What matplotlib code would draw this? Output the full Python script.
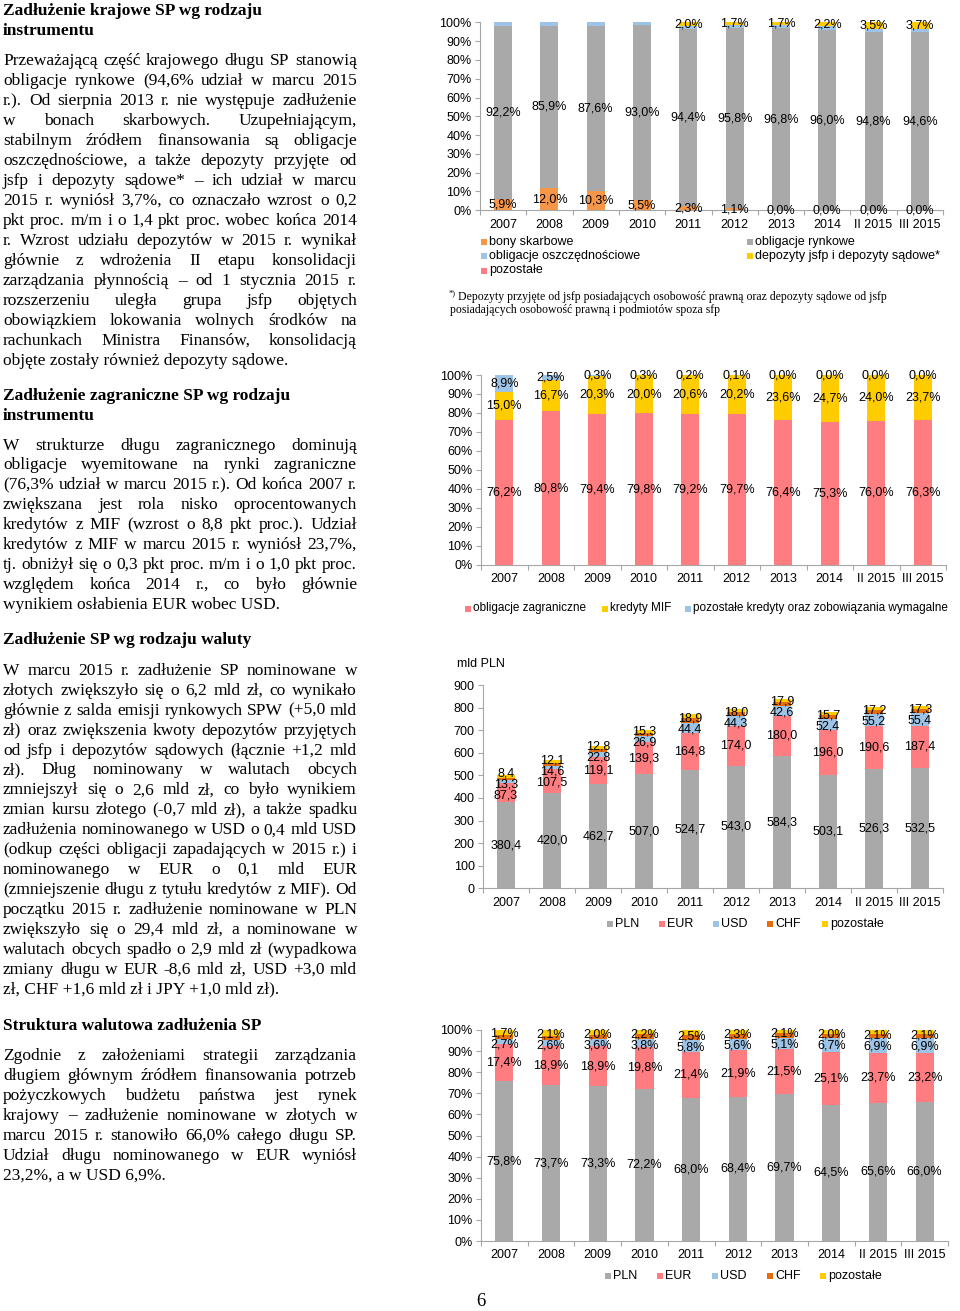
import matplotlib
matplotlib.use("Agg")
import matplotlib.pyplot as plt
import numpy as np
from matplotlib.patches import Rectangle
from matplotlib.font_manager import FontProperties

W, H = 960, 1311

years = ['2007', '2008', '2009', '2010', '2011', '2012', '2013', '2014', 'II 2015', 'III 2015']

# Chart 1: domestic debt by instrument (%)
k_bony = [5.9, 12.0, 10.3, 5.5, 2.3, 1.1, 0.0, 0.0, 0.0, 0.0]
k_rynkowe = [92.2, 85.9, 87.6, 93.0, 94.4, 95.8, 96.8, 96.0, 94.8, 94.6]
k_oszcz = [1.9, 2.1, 2.1, 1.5, 1.3, 1.4, 1.5, 1.8, 1.7, 1.7]
k_depoz = [0.0, 0.0, 0.0, 0.0, 2.0, 1.7, 1.7, 2.2, 3.5, 3.7]
k_pozost = [0.0, 0.0, 0.0, 0.0, 0.0, 0.0, 0.0, 0.0, 0.0, 0.0]

# Chart 2: foreign debt by instrument (%)
z_oblig = [76.2, 80.8, 79.4, 79.8, 79.2, 79.7, 76.4, 75.3, 76.0, 76.3]
z_mif = [15.0, 16.7, 20.3, 20.0, 20.6, 20.2, 23.6, 24.7, 24.0, 23.7]
z_pozost = [8.9, 2.5, 0.3, 0.3, 0.2, 0.1, 0.0, 0.0, 0.0, 0.0]

# Chart 3: debt by currency (mld PLN)
w_pln = [380.4, 420.0, 462.7, 507.0, 524.7, 543.0, 584.3, 503.1, 526.3, 532.5]
w_eur = [87.3, 107.5, 119.1, 139.3, 164.8, 174.0, 180.0, 196.0, 190.6, 187.4]
w_usd = [13.3, 14.6, 22.8, 26.9, 44.4, 44.3, 42.6, 52.4, 55.2, 55.4]
w_chf = [8.4, 12.1, 12.8, 15.3, 18.9, 18.0, 17.9, 15.7, 17.2, 17.3]
w_poz = [12.4, 15.7, 13.8, 13.7, 18.8, 14.6, 13.5, 12.8, 13.0, 14.2]

# Chart 4: currency structure (%)
s_pln = [75.8, 73.7, 73.3, 72.2, 68.0, 68.4, 69.7, 64.5, 65.6, 66.0]
s_eur = [17.4, 18.9, 18.9, 19.8, 21.4, 21.9, 21.5, 25.1, 23.7, 23.2]
s_usd = [2.7, 2.6, 3.6, 3.8, 5.8, 5.6, 5.1, 6.7, 6.9, 6.9]
s_chf = [1.7, 2.1, 2.0, 2.2, 2.5, 2.3, 2.1, 2.0, 2.1, 2.1]
s_poz = [2.4, 2.7, 2.2, 2.0, 2.3, 1.8, 1.6, 1.7, 1.7, 1.8]

C_GRAY = '#A9A9A9'
C_ORANGE = '#F79646'
C_BLUE = '#9DC3E6'
C_YELLOW = '#FFCC00'
C_PINK = '#FF7C80'
C_CHF = '#E46C0A'
AXC = '#A6A6A6'

SANS = 'Liberation Sans'
SERIF = 'Liberation Serif'
FS = 9.0

fig = plt.figure(figsize=(W / 100, H / 100), dpi=100)
fig.patch.set_facecolor('white')


def fx(x):
    return x / W


def fy(y):
    return 1 - y / H


def make_ax(left, right, top, bottom, ymax, ystep, pct):
    ax = fig.add_axes([fx(left), fy(bottom), (right - left) / W, (bottom - top) / H])
    ax.set_xlim(-0.5, 9.5)
    ax.set_ylim(0, ymax)
    for s in ['top', 'right']:
        ax.spines[s].set_visible(False)
    for s in ['left', 'bottom']:
        ax.spines[s].set_color(AXC)
        ax.spines[s].set_linewidth(0.8)
    ax.set_xticks(range(10))
    ax.set_xticklabels(years, fontsize=FS, family=SANS)
    ax.set_xticks(np.arange(-0.5, 10, 1), minor=True)
    ax.tick_params(axis='x', which='major', length=0, pad=6.0)
    ax.tick_params(axis='x', which='minor', length=3.5, color=AXC, width=0.8)
    yt = np.arange(0, ymax + 0.001, ystep)
    ax.set_yticks(yt)
    ax.set_yticklabels([(f'{int(v)}%' if pct else f'{int(v)}') for v in yt], fontsize=FS, family=SANS)
    ax.tick_params(axis='y', length=3.5, color=AXC, width=0.8, pad=2.5)
    ax.patch.set_alpha(0)
    return ax


def spread(centers, gap):
    p = list(centers)
    for _ in range(200):
        for i in range(len(p) - 1):
            d = p[i + 1] - p[i]
            if d < gap:
                s = (gap - d) / 2
                p[i] -= s
                p[i + 1] += s
    return p


def stacked(ax, series, colors, masks, gap, pct):
    bottoms = np.zeros(10)
    centers = []
    for vals, c in zip(series, colors):
        v = np.array(vals, dtype=float)
        ax.bar(np.arange(10), v, 0.39, bottom=bottoms, color=c, linewidth=0)
        centers.append(bottoms + v / 2)
        bottoms = bottoms + v
    for i in range(10):
        idx = [k for k in range(len(series)) if masks[k][i]]
        pos = spread([centers[k][i] for k in idx], gap)
        for k, p in zip(idx, pos):
            s = f'{series[k][i]:.1f}'.replace('.', ',') + ('%' if pct else '')
            ax.text(i, p, s, ha='center', va='center', fontsize=FS, family=SANS)


def legend_item(xm, yc, color, text, fs=FS):
    fig.patches.append(Rectangle((fx(xm - 3), fy(yc + 3)), 6 / W, 6 / H,
                                 transform=fig.transFigure, color=color, linewidth=0))
    fig.text(fx(xm + 5), fy(yc), text, fontsize=fs, family=SANS, va='center', ha='left')


# ---- Chart 1
ax1 = make_ax(480, 943, 22.3, 210.3, 100, 10, True)
all_ = [True] * 10
none_ = [False] * 10
stacked(ax1, [k_bony, k_rynkowe, k_oszcz, k_depoz, k_pozost],
        [C_ORANGE, C_GRAY, C_BLUE, C_YELLOW, C_PINK],
        [all_, all_, none_, [v > 0 for v in k_depoz], none_], 5.8, True)
legend_item(484, 241.5, C_ORANGE, 'bony skarbowe')
legend_item(484, 256, C_BLUE, 'obligacje oszczędnościowe')
legend_item(484, 270.5, C_PINK, 'pozostałe')
legend_item(750, 241.5, C_GRAY, 'obligacje rynkowe')
legend_item(750, 256, C_YELLOW, 'depozyty jsfp i depozyty sądowe*')

fig.text(fx(449), fy(295), '*)', fontsize=6, family=SERIF, va='baseline')
fig.text(fx(458), fy(300), 'Depozyty przyjęte od jsfp posiadających osobowość prawną oraz depozyty sądowe od jsfp',
         fontsize=8.5, family=SERIF, va='baseline')
fig.text(fx(450), fy(313.5), 'posiadających osobowość prawną i podmiotów spoza sfp',
         fontsize=8.5, family=SERIF, va='baseline')

# ---- Chart 2
ax2 = make_ax(481, 946, 375, 564.7, 100, 10, True)
stacked(ax2, [z_oblig, z_mif, z_pozost], [C_PINK, C_YELLOW, C_BLUE],
        [all_, all_, all_], 5.8, True)
legend_item(468, 608.5, C_PINK, 'obligacje zagraniczne', 8.5)
legend_item(605, 608.5, C_YELLOW, 'kredyty MIF', 8.5)
legend_item(688, 608.5, C_BLUE, 'pozostałe kredyty oraz zobowiązania wymagalne', 8.5)

# ---- Chart 3
ax3 = make_ax(483, 943, 685, 888.3, 900, 100, False)
stacked(ax3, [w_pln, w_eur, w_usd, w_chf, w_poz], [C_GRAY, C_PINK, C_BLUE, C_CHF, C_YELLOW],
        [all_, all_, all_, all_, none_], 49.0, False)
fig.text(fx(457), fy(664), 'mld PLN', fontsize=FS, family=SANS, va='center', ha='left')
for xm, c, t in [(610, C_GRAY, 'PLN'), (662, C_PINK, 'EUR'), (716, C_BLUE, 'USD'),
                 (770, C_CHF, 'CHF'), (825, C_YELLOW, 'pozostałe')]:
    legend_item(xm, 924, c, t)

# ---- Chart 4
ax4 = make_ax(481, 948, 1030, 1241, 100, 10, True)
stacked(ax4, [s_pln, s_eur, s_usd, s_chf, s_poz], [C_GRAY, C_PINK, C_BLUE, C_CHF, C_YELLOW],
        [all_, all_, all_, all_, none_], 5.2, True)
for xm, c, t in [(608, C_GRAY, 'PLN'), (660, C_PINK, 'EUR'), (715, C_BLUE, 'USD'),
                 (770, C_CHF, 'CHF'), (823, C_YELLOW, 'pozostałe')]:
    legend_item(xm, 1276, c, t)

# ---- Left column text
body_fp = FontProperties(family=SERIF, size=12.5)
bold_fp = FontProperties(family=SERIF, size=12.5, weight='bold')
renderer = fig.canvas.get_renderer()


def tw(s, fp):
    w, h, d = renderer.get_text_width_height_descent(s, fp, ismath=False)
    return w


def heading(lines, y0, dy=20):
    for j, line in enumerate(lines):
        fig.text(fx(3), fy(y0 + j * dy), line, fontproperties=bold_fp, va='baseline', ha='left')


def para(lines, y0, dy, x0=3, x1=357):
    for j, line in enumerate(lines):
        y = y0 + j * dy
        words = line.split(' ')
        if j == len(lines) - 1 or len(words) == 1:
            fig.text(fx(x0), fy(y), line, fontproperties=body_fp, va='baseline', ha='left')
            continue
        widths = [tw(w_, body_fp) for w_ in words]
        g = (x1 - x0 - sum(widths)) / (len(words) - 1)
        x = x0
        for w_, ww in zip(words, widths):
            fig.text(fx(x), fy(y), w_, fontproperties=body_fp, va='baseline', ha='left')
            x += ww + g


heading(['Zadłużenie krajowe SP wg rodzaju', 'instrumentu'], 15)
para([
    'Przeważającą część krajowego długu SP stanowią',
    'obligacje rynkowe (94,6% udział w marcu 2015',
    'r.). Od sierpnia 2013 r. nie występuje zadłużenie',
    'w bonach skarbowych. Uzupełniającym,',
    'stabilnym źródłem finansowania są obligacje',
    'oszczędnościowe, a także depozyty przyjęte od',
    'jsfp i depozyty sądowe* – ich udział w marcu',
    '2015 r. wyniósł 3,7%, co oznaczało wzrost o 0,2',
    'pkt proc. m/m i o 1,4 pkt proc. wobec końca 2014',
    'r. Wzrost udziału depozytów w 2015 r. wynikał',
    'głównie z wdrożenia II etapu konsolidacji',
    'zarządzania płynnością – od 1 stycznia 2015 r.',
    'rozszerzeniu uległa grupa jsfp objętych',
    'obowiązkiem lokowania wolnych środków na',
    'rachunkach Ministra Finansów, konsolidacją',
    'objęte zostały również depozyty sądowe.',
], 65, 20)

heading(['Zadłużenie zagraniczne SP wg rodzaju', 'instrumentu'], 400)
para([
    'W strukturze długu zagranicznego dominują',
    'obligacje wyemitowane na rynki zagraniczne',
    '(76,3% udział w marcu 2015 r.). Od końca 2007 r.',
    'zwiększana jest rola nisko oprocentowanych',
    'kredytów z MIF (wzrost o 8,8 pkt proc.). Udział',
    'kredytów z MIF w marcu 2015 r. wyniósł 23,7%,',
    'tj. obniżył się o 0,3 pkt proc. m/m i o 1,0 pkt proc.',
    'względem końca 2014 r., co było głównie',
    'wynikiem osłabienia EUR wobec USD.',
], 449.5, 19.9)

heading(['Zadłużenie SP wg rodzaju waluty'], 644.5)
para([
    'W marcu 2015 r. zadłużenie SP nominowane w',
    'złotych zwiększyło się o 6,2 mld zł, co wynikało',
    'głównie z salda emisji rynkowych SPW (+5,0 mld',
    'zł) oraz zwiększenia kwoty depozytów przyjętych',
    'od jsfp i depozytów sądowych (łącznie +1,2 mld',
    'zł). Dług nominowany w walutach obcych',
    'zmniejszył się o 2,6 mld zł, co było wynikiem',
    'zmian kursu złotego (-0,7 mld zł), a także spadku',
    'zadłużenia nominowanego w USD o 0,4 mld USD',
    '(odkup części obligacji zapadających w 2015 r.) i',
    'nominowanego w EUR o 0,1 mld EUR',
    '(zmniejszenie długu z tytułu kredytów z MIF). Od',
    'początku 2015 r. zadłużenie nominowane w PLN',
    'zwiększyło się o 29,4 mld zł, a nominowane w',
    'walutach obcych spadło o 2,9 mld zł (wypadkowa',
    'zmiany długu w EUR -8,6 mld zł, USD +3,0 mld',
    'zł, CHF +1,6 mld zł i JPY +1,0 mld zł).',
], 675, 19.9)

heading(['Struktura walutowa zadłużenia SP'], 1029.5)
para([
    'Zgodnie z założeniami strategii zarządzania',
    'długiem głównym źródłem finansowania potrzeb',
    'pożyczkowych budżetu państwa jest rynek',
    'krajowy – zadłużenie nominowane w złotych w',
    'marcu 2015 r. stanowiło 66,0% całego długu SP.',
    'Udział długu nominowanego w EUR wyniósł',
    '23,2%, a w USD 6,9%.',
], 1059.5, 20)

fig.text(fx(481), fy(1301), '6', fontsize=13.5, family=SERIF, ha='center', va='center')

fig.savefig('out.png', dpi=100, facecolor='white')
